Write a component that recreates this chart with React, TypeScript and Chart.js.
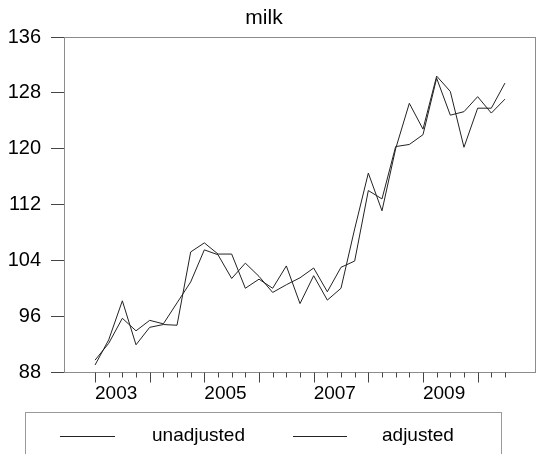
import { useEffect, useRef } from 'react';
import { Chart, registerables } from 'chart.js';

Chart.register(...registerables);

const categories = [
  '2003Q1', '2003Q2', '2003Q3', '2003Q4',
  '2004Q1', '2004Q2', '2004Q3', '2004Q4',
  '2005Q1', '2005Q2', '2005Q3', '2005Q4',
  '2006Q1', '2006Q2', '2006Q3', '2006Q4',
  '2007Q1', '2007Q2', '2007Q3', '2007Q4',
  '2008Q1', '2008Q2', '2008Q3', '2008Q4',
  '2009Q1', '2009Q2', '2009Q3', '2009Q4',
  '2010Q1', '2010Q2', '2010Q3',
];

const unadjusted = [
  89.0, 92.6, 98.2, 91.9, 94.4, 94.8, 94.7, 105.2,
  106.5, 104.9, 104.9, 100.0, 101.3, 100.0, 103.2, 97.8,
  101.8, 98.3, 100.0, 108.5, 116.5, 111.1, 120.0, 126.5,
  122.8, 130.4, 128.2, 120.2, 125.8, 125.8, 129.4,
];

const adjusted = [
  89.7, 92.1, 95.7, 93.9, 95.4, 94.9, 97.9, 100.9,
  105.5, 104.8, 101.4, 103.6, 101.7, 99.4, 100.5, 101.5,
  102.9, 99.5, 103.0, 103.9, 114.0, 112.8, 120.3, 120.6,
  122.0, 130.1, 124.8, 125.3, 127.45, 125.1, 127.1,
];

const yTicks = [88, 96, 104, 112, 120, 128, 136];
const xTickLabels = ['2003', '2005', '2007', '2009'];
const seriesNames = ['unadjusted', 'adjusted'];
const titleText = 'milk';

const FONT = '"Liberation Sans", Arial, Helvetica, sans-serif';

export default function App() {
  const ref = useRef<HTMLCanvasElement | null>(null);

  useEffect(() => {
    if (!ref.current) return;
    const decor = {
      id: 'decor',
      afterDraw(chart: any) {
        const { ctx, chartArea } = chart;
        const xs = chart.scales.x;
        ctx.save();
        // frame
        ctx.strokeStyle = '#8c8c8c';
        ctx.lineWidth = 1;
        ctx.strokeRect(
          Math.round(chartArea.left) + 0.5,
          Math.round(chartArea.top) + 0.5,
          Math.round(chartArea.right - chartArea.left) - 1,
          Math.round(chartArea.bottom - chartArea.top)
        );
        // x ticks
        ctx.strokeStyle = '#444';
        const b = Math.round(chartArea.bottom) + 0.5;
        categories.forEach((c, i) => {
          const px = Math.round(xs.getPixelForValue(i)) + 0.5;
          const len = c.endsWith('Q1') ? 10 : 5;
          ctx.beginPath();
          ctx.moveTo(px, b);
          ctx.lineTo(px, b + len);
          ctx.stroke();
        });
        // title
        ctx.fillStyle = '#000';
        ctx.font = `21px ${FONT}`;
        ctx.textAlign = 'center';
        ctx.textBaseline = 'middle';
        ctx.fillText(titleText, 264, 18);
        // legend
        ctx.strokeStyle = '#999';
        ctx.strokeRect(25.5, 412.5, 476, 50);
        ctx.strokeStyle = '#222';
        const items = [
          { x1: 60, x2: 115, tx: 152 },
          { x1: 293, x2: 347, tx: 382 },
        ];
        ctx.font = `19px ${FONT}`;
        ctx.textAlign = 'left';
        items.forEach((it, k) => {
          ctx.beginPath();
          ctx.moveTo(it.x1, 436.5);
          ctx.lineTo(it.x2, 436.5);
          ctx.stroke();
          ctx.fillText(seriesNames[k], it.tx, 436);
        });
        ctx.restore();
      },
    };

    const chart = new Chart(ref.current, {
      type: 'line',
      data: {
        datasets: [
          {
            label: seriesNames[0],
            data: unadjusted.map((v, i) => ({ x: i, y: v })),
            borderColor: '#222',
            borderWidth: 1,
            pointRadius: 0,
            tension: 0,
          },
          {
            label: seriesNames[1],
            data: adjusted.map((v, i) => ({ x: i, y: v })),
            borderColor: '#222',
            borderWidth: 1,
            pointRadius: 0,
            tension: 0,
          },
        ],
      },
      options: {
        responsive: false,
        animation: false,
        devicePixelRatio: 1,
        layout: { padding: { top: 37, left: 0, right: 1, bottom: 42 } },
        plugins: {
          legend: { display: false },
          title: { display: false },
          tooltip: { enabled: false },
        },
        scales: {
          x: {
            type: 'linear',
            min: -2.27,
            max: 32.27,
            grid: { display: false },
            border: { display: false },
            afterFit: (s: any) => { s.height = 40; },
            afterBuildTicks: (s: any) => {
              s.ticks = categories.map((_, i) => ({ value: i }));
            },
            ticks: {
              autoSkip: false,
              maxRotation: 0,
              align: 'start',
              padding: 2,
              color: '#000',
              font: { family: FONT, size: 19 },
              callback: (v: any) => {
                const c = categories[v as number];
                if (!c || !c.endsWith('Q1')) return '';
                const yr = c.slice(0, 4);
                return xTickLabels.includes(yr) ? yr : '';
              },
            },
          },
          y: {
            min: 88,
            max: 136,
            afterFit: (s: any) => { s.width = 64; },
            afterBuildTicks: (s: any) => {
              s.ticks = yTicks.map((v) => ({ value: v }));
            },
            grid: {
              drawOnChartArea: false,
              drawTicks: true,
              tickLength: 13,
              tickColor: '#444',
            },
            border: { display: false },
            ticks: {
              padding: 10,
              color: '#000',
              font: { family: FONT, size: 20 },
            },
          },
        },
      },
      plugins: [decor],
    });
    return () => chart.destroy();
  }, []);

  return (
    <div style={{ position: 'absolute', left: 0, top: 0, width: 537, height: 454, background: '#fff' }}>
      <canvas ref={ref} width={537} height={454} />
    </div>
  );
}
